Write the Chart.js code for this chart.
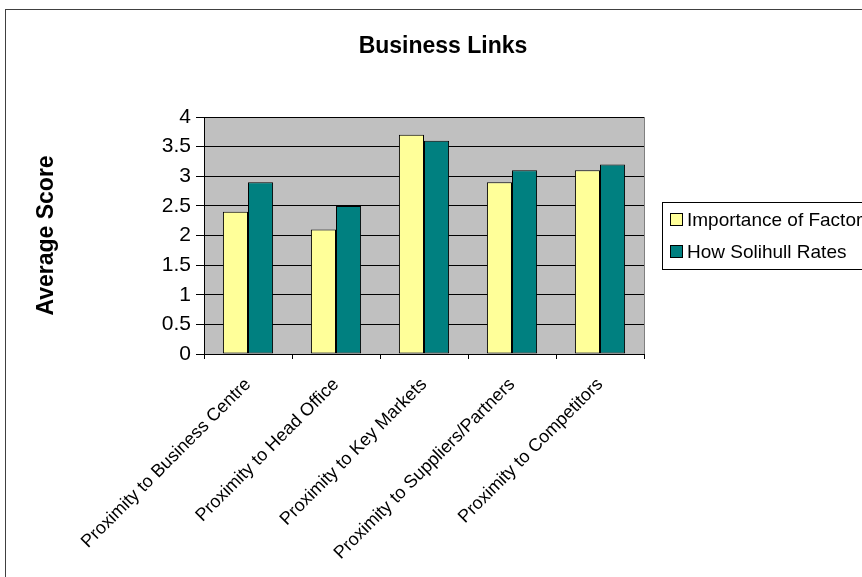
<!DOCTYPE html>
<html>
<head>
<meta charset="utf-8">
<title>Business Links</title>
<script src="https://cdn.jsdelivr.net/npm/chart.js@4/dist/chart.umd.min.js"></script>
<style>
  html, body { margin: 0; padding: 0; background: #fff; }
  canvas { display: block; }
</style>
</head>
<body>
<canvas id="linksChart" width="862" height="577"></canvas>
<script>
// 类别与两组平均分
const categories = [
    "Proximity to Business Centre",
    "Proximity to Head Office",
    "Proximity to Key Markets",
    "Proximity to Suppliers/Partners",
    "Proximity to Competitors"
];
const importanceScores = [2.4, 2.1, 3.7, 2.9, 3.1];
const solihullScores = [2.9, 2.5, 3.6, 3.1, 3.2];
const seriesNames = ["Importance of Factor", "How Solihull Rates"];
const yTicks = [0, 0.5, 1, 1.5, 2, 2.5, 3, 3.5, 4];

const FONT = '"Liberation Sans", Arial, sans-serif';

// 绘图区底色、外框、标题和图例
const decorPlugin = {
    id: 'decor',
    beforeDraw(chart) {
        const { ctx, chartArea: a } = chart;
        ctx.save();
        ctx.fillStyle = '#fff';
        ctx.fillRect(0, 0, chart.width, chart.height);
        // 外框（右侧和底部超出画布）
        ctx.strokeStyle = '#404040';
        ctx.lineWidth = 1;
        ctx.strokeRect(5.5, 9.5, chart.width + 10, chart.height + 10);
        // 灰色绘图区
        ctx.fillStyle = '#C0C0C0';
        ctx.fillRect(a.left, a.top, a.right - a.left, a.bottom - a.top);
        ctx.strokeStyle = '#808080';
        ctx.strokeRect(Math.round(a.left) + 0.5, Math.round(a.top) + 0.5,
            Math.round(a.right - a.left), Math.round(a.bottom - a.top));
        ctx.restore();
    },
    afterDraw(chart) {
        const { ctx } = chart;
        ctx.save();
        // 标题
        ctx.fillStyle = '#000';
        ctx.font = 'bold 23px ' + FONT;
        ctx.textAlign = 'center';
        ctx.textBaseline = 'alphabetic';
        ctx.fillText('Business Links', 443, 53);

        // 图例
        ctx.strokeStyle = '#000';
        ctx.lineWidth = 1;
        ctx.fillStyle = '#fff';
        ctx.fillRect(662.5, 202.5, 300, 67);
        ctx.strokeRect(662.5, 202.5, 300, 67);
        ctx.font = '19px ' + FONT;
        ctx.textAlign = 'left';
        ctx.textBaseline = 'middle';
        chart.data.datasets.forEach((ds, i) => {
            const cy = 220 + i * 32;
            ctx.fillStyle = ds.backgroundColor;
            ctx.fillRect(670.5, cy - 6.5, 12, 12);
            ctx.strokeRect(670.5, cy - 6.5, 12, 12);
            ctx.fillStyle = '#000';
            ctx.fillText(ds.label, 687, cy + 1);
        });
        ctx.restore();
    }
};

const ctx = document.getElementById("linksChart").getContext("2d");
const linksChart = new Chart(ctx, {
    type: 'bar',
    data: {
        labels: categories,
        datasets: [{
            label: seriesNames[0],
            data: importanceScores,
            backgroundColor: '#FFFF99',
            borderColor: '#000',
            borderWidth: 1,
            borderSkipped: false
        }, {
            label: seriesNames[1],
            data: solihullScores,
            backgroundColor: '#008080',
            borderColor: '#000',
            borderWidth: 1,
            borderSkipped: false
        }]
    },
    options: {
        responsive: false,
        animation: false,
        events: [],
        layout: {
            padding: { left: 33, top: 117, right: 218, bottom: 0 }
        },
        datasets: {
            bar: { categoryPercentage: 0.57, barPercentage: 1 }
        },
        plugins: {
            legend: { display: false },
            title: { display: false },
            tooltip: { enabled: false }
        },
        scales: {
            x: {
                grid: {
                    display: true,
                    drawOnChartArea: false,
                    drawTicks: true,
                    tickLength: 5,
                    color: '#000',
                    offset: true
                },
                border: { color: '#000', width: 1 },
                ticks: {
                    autoSkip: false,
                    maxRotation: 45,
                    minRotation: 45,
                    padding: 15,
                    color: '#000',
                    font: { family: FONT, size: 18 }
                },
                afterFit(scale) { scale.height = 223; }
            },
            y: {
                min: yTicks[0],
                max: yTicks[yTicks.length - 1],
                afterBuildTicks(scale) {
                    scale.ticks = yTicks.map(v => ({ value: v }));
                },
                grid: {
                    color: '#000',
                    lineWidth: 1,
                    drawTicks: true,
                    tickLength: 8
                },
                border: { color: '#000', width: 1 },
                ticks: {
                    padding: 5,
                    color: '#000',
                    font: { family: FONT, size: 21 },
                    callback: (v) => String(v)
                },
                title: {
                    display: true,
                    text: 'Average Score',
                    color: '#000',
                    padding: 0,
                    font: { family: FONT, size: 23, weight: 'bold' }
                },
                afterFit(scale) { scale.width = 171; }
            }
        }
    },
    plugins: [decorPlugin]
});
</script>
</body>
</html>
